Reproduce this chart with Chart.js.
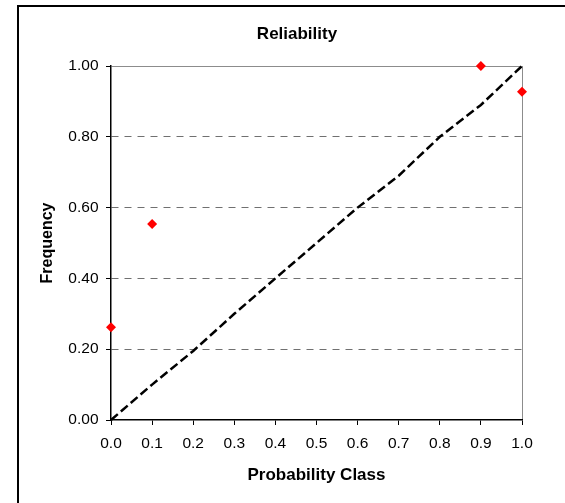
<!DOCTYPE html>
<html>
<head>
<meta charset="utf-8">
<script src="https://cdn.jsdelivr.net/npm/chart.js@4/dist/chart.umd.min.js"></script>
<style>
  html, body { margin: 0; padding: 0; background: #fff; overflow: hidden; width: 565px; height: 503px; }
  #wrap { position: relative; width: 565px; height: 503px; }
  #frame { position: absolute; left: 17px; top: 5px; width: 700px; height: 700px; border: 2px solid #000; pointer-events: none; }
  canvas { position: absolute; left: 0; top: 0; }
</style>
</head>
<body>
<div id="wrap">
  <canvas id="c" width="565" height="503"></canvas>
  <div id="frame"></div>
</div>
<script>
// ---- data ----
const chartTitle = 'Reliability';
const xAxisTitle = 'Probability Class';
const yAxisTitle = 'Frequency';
const probClasses = [0, 0.1, 0.2, 0.3, 0.4, 0.5, 0.6, 0.7, 0.8, 0.9, 1.0];
const perfectLine = [0, 0.1, 0.195, 0.3, 0.4, 0.5, 0.6, 0.69, 0.8, 0.89, 1.0];
const obsClasses = [0, 0.1, 0.9, 1.0];
const obsFrequency = [0.262, 0.554, 1.0, 0.927];
const xTickStep = 0.1;
const yTickStep = 0.2;

const FONT = "'Liberation Sans', Arial, sans-serif";

const titlePlugin = {
  id: 'customTitle',
  afterDraw(chart) {
    const ctx = chart.ctx;
    ctx.save();
    ctx.font = 'bold 17px ' + FONT;
    ctx.fillStyle = '#000';
    ctx.textAlign = 'center';
    ctx.textBaseline = 'middle';
    ctx.fillText(chartTitle, 297, 34);
    ctx.restore();
  }
};

const near = (a, b) => Math.abs(a - b) < 1e-6;

new Chart(document.getElementById('c'), {
  type: 'scatter',
  data: {
    datasets: [
      {
        label: 'Observed',
        data: obsClasses.map((x, i) => ({ x: x, y: obsFrequency[i] })),
        pointStyle: 'rectRot',
        pointRadius: 5,
        pointBackgroundColor: '#ff0000',
        pointBorderColor: '#ff0000',
        pointBorderWidth: 0,
        showLine: false,
        clip: false,
        order: 0
      },
      {
        label: 'Perfect',
        data: probClasses.map((x, i) => ({ x: x, y: perfectLine[i] })),
        showLine: true,
        borderColor: '#000',
        borderWidth: 2.5,
        borderDash: [9, 4],
        pointRadius: 0,
        fill: false,
        tension: 0,
        clip: false,
        order: 1
      }
    ]
  },
  options: {
    responsive: false,
    animation: false,
    events: [],
    layout: { padding: { left: 0, top: 66, right: 43, bottom: 0 } },
    plugins: { legend: { display: false }, tooltip: { enabled: false }, title: { display: false } },
    scales: {
      x: {
        type: 'linear',
        min: 0, max: 1,
        ticks: {
          stepSize: xTickStep,
          callback: v => Number(v).toFixed(1),
          color: '#000',
          font: { family: FONT, size: 15.5 },
          padding: 9,
          maxRotation: 0,
          autoSkip: false
        },
        grid: {
          color: ctx => (ctx.tick && near(ctx.tick.value, 1)) ? '#8c8c8c' : 'rgba(0,0,0,0)',
          lineWidth: 1,
          tickColor: '#000',
          tickLength: 5,
          drawTicks: true
        },
        border: { color: '#000', width: 1.5 },
        title: {
          display: true, text: xAxisTitle, color: '#000',
          font: { family: FONT, size: 17, weight: 'bold' },
          padding: { top: 0, bottom: 17 }
        },
        afterFit: s => { s.height = 83; }
      },
      y: {
        type: 'linear',
        min: 0, max: 1,
        ticks: {
          stepSize: yTickStep,
          callback: v => Number(v).toFixed(2),
          color: '#000',
          font: { family: FONT, size: 15.5 },
          padding: 7.5
        },
        grid: {
          color: ctx => {
            if (!ctx.tick) return 'rgba(0,0,0,0)';
            if (near(ctx.tick.value, 0)) return 'rgba(0,0,0,0)';
            if (near(ctx.tick.value, 1)) return '#8c8c8c';
            return '#707070';
          },
          lineWidth: 1,
          tickColor: '#000',
          tickLength: 5
        },
        border: {
          color: '#000', width: 1.5,
          dash: ctx => (ctx.tick && ctx.tick.value > 0.001 && ctx.tick.value < 0.999) ? [7, 6] : []
        },
        title: {
          display: true, text: yAxisTitle, color: '#000',
          font: { family: FONT, size: 16, weight: 'bold' },
          padding: { top: 38, bottom: 0 }
        },
        afterFit: s => { s.width = 111; }
      }
    }
  },
  plugins: [titlePlugin]
});
</script>
</body>
</html>
